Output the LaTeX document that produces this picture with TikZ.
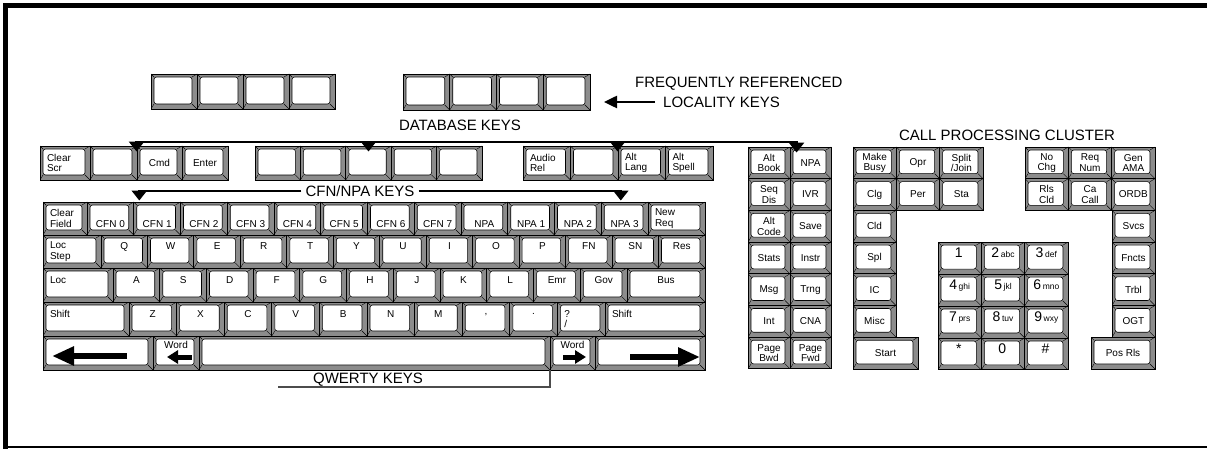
\documentclass[tikz,border=0pt]{standalone}
\usepackage{fontspec}
\setmainfont{Liberation Sans}
\usetikzlibrary{arrows.meta, positioning, calc}

\definecolor{keyshade}{gray}{0.55}

\tikzset{
  key/.style={draw, line width=0.9pt, fill=keyshade, inner sep=0pt, align=center,
    font=\fontsize{10}{10.5}\selectfont,
    path picture={
      \draw[fill=white, line width=0.6pt, rounded corners=2.5pt]
        ([shift={(3,3)}]path picture bounding box.north west) rectangle
        ([shift={(-5,-5)}]path picture bounding box.south east);
      \draw[line width=0.4pt] (path picture bounding box.north west) -- ++(3,3);
      \draw[line width=0.4pt] (path picture bounding box.north east) -- ++(-5,3);
      \draw[line width=0.4pt] (path picture bounding box.south west) -- ++(3,-5);
      \draw[line width=0.4pt] (path picture bounding box.south east) -- ++(-5,-5);
    }},
  lft/.style={text width=\ktw pt, align=left},
  txtup/.style={text depth=10pt},
  txtdn/.style={text height=19pt},
  wordup/.style={text depth=16pt},
  heading/.style={font=\fontsize{15}{16}\selectfont, inner sep=2pt},
  bar/.style={line width=2.5pt, -{Triangle[width=15pt,length=10pt]}},
  fatarrow/.style={line width=6pt, -{Triangle[width=18pt,length=22pt]}},
  slimarrow/.style={line width=5pt, -{Triangle[width=13pt,length=11pt]}},
  qwbar/.style={line width=2pt, gray!60!black},
}

\newcommand{\keybox}[7][]{%
  \pgfmathsetmacro\kcx{((#3)+(#5))/2}%
  \pgfmathsetmacro\kcy{((#4)+(#6))/2}%
  \pgfmathsetmacro\kw{(#5)-(#3)}%
  \pgfmathsetmacro\kh{(#6)-(#4)}%
  \pgfmathsetmacro\ktw{\kw-14}%
  \node[key, minimum width=\kw pt, minimum height=\kh pt, #1] (#2) at (\kcx,\kcy) {#7};%
}
\newcommand{\padlbl}[2]{{\fontsize{14}{14}\selectfont #1}\,{\fontsize{8.5}{9}\selectfont #2}}

\begin{document}
\begin{tikzpicture}[x=1pt, y=-1pt]
    \useasboundingbox (0,0) rectangle (1207,449);
    \draw [line width=5pt] (5.5,449) -- (5.5,5.5) -- (1207,5.5);
    \draw [line width=2.5pt] (3,447) -- (1207,447);

    \foreach \i in {0,...,3} {
      \keybox{fa\i}{151+46*\i}{74}{151+46*(\i+1)}{109}{}
      \keybox{fb\i}{403+46.75*\i}{74}{403+46.75*(\i+1)}{110}{}
    }
    \node [heading, anchor=west] (freqlbl) at (633,84) {FREQUENTLY REFERENCED};
    \node [heading, anchor=west] (loclbl) at (661,102) {LOCALITY KEYS};
    \coordinate (locend) at (604,102);
    \draw [bar, -{Triangle[width=12pt,length=13pt]}] ([xshift=-6pt]loclbl.west) -- (locend);

    \keybox[lft]{clrscr}{40}{146}{90}{180}{Clear\\Scr}
    \keybox{dka}{90}{146}{137}{180}{}
    \keybox{cmd}{137}{146}{182}{180}{Cmd}
    \keybox{enter}{182}{146}{228}{180}{Enter}
    \foreach \i in {0,...,4} {
      \keybox{dkb\i}{255+45.4*\i}{146}{255+45.4*(\i+1)}{180}{}
    }
    \keybox[lft]{audio}{523}{146}{570.5}{180}{Audio\\Rel}
    \keybox{dkc}{570.5}{146}{618}{180}{}
    \keybox[lft]{altlang}{618}{146}{665.5}{180}{Alt\\Lang}
    \keybox[lft]{altspell}{665.5}{146}{713}{180}{Alt\\Spell}

    \foreach \t [count=\i from 0] in {Alt\\Book,Seq\\Dis,Alt\\Code,Stats,Msg,Int,Page\\Bwd} {
      \keybox{sl\i}{748}{147+31.7*\i}{790}{147+31.7*(\i+1)}{\t}
    }
    \foreach \t [count=\i from 0] in {NPA,IVR,Save,Instr,Trng,CNA,Page\\Fwd} {
      \keybox{sr\i}{790}{147+31.7*\i}{831}{147+31.7*(\i+1)}{\t}
    }

    \node [heading] (dblbl) at (460,125) {DATABASE KEYS};
    \coordinate (dbbar) at (460,142);
    \draw [bar] (dbbar) -| ([yshift=-6pt]cmd.north west);
    \draw [bar] (dbbar) -| ([shift={(7,6)}]sr0.north west);
    \draw [bar] (dbbar -| dkb2.north) -- ([yshift=-6pt]dkb2.north);
    \draw [bar] (dbbar -| altlang.north west) -- ([yshift=-6pt]altlang.north west);

    \keybox[lft]{clrfld}{43}{202}{87}{235}{Clear\\Field}
    \foreach \t [count=\i from 0] in {CFN 0,CFN 1,CFN 2,CFN 3,CFN 4,CFN 5,CFN 6,CFN 7,NPA,NPA 1,NPA 2,NPA 3} {
      \keybox[txtdn]{fk\i}{87+46.75*\i}{202}{87+46.75*(\i+1)}{235}{\t}
    }
    \keybox[lft]{newreq}{648}{202}{705}{235}{New\\Req}

    \keybox[lft]{locstep}{43}{235}{101}{268}{Loc\\Step}
    \foreach \t [count=\i from 0] in {Q,W,E,R,T,Y,U,I,O,P,FN,SN,Res} {
      \keybox[txtup]{qk\i}{101+46.46*\i}{235}{101+46.46*(\i+1)}{268}{\t}
    }

    \keybox[lft,txtup]{loc}{43}{268}{113}{302}{Loc}
    \foreach \t [count=\i from 0] in {A,S,D,F,G,H,J,K,L,Emr,Gov} {
      \keybox[txtup]{ak\i}{113+46.73*\i}{268}{113+46.73*(\i+1)}{302}{\t}
    }
    \keybox[txtup]{bus}{627}{268}{705}{302}{Bus}

    \keybox[lft,txtup]{lshift}{43}{302}{129}{336}{Shift}
    \foreach \t [count=\i from 0] in {Z,X,C,V,B,N,M,{,},.} {
      \keybox[txtup]{zk\i}{129+47.6*\i}{302}{129+47.6*(\i+1)}{336}{\t}
    }
    \keybox[lft]{qmark}{557.4}{302}{605}{336}{?\\/}
    \keybox[lft,txtup]{rshift}{605}{302}{705}{336}{Shift}

    \keybox{arrl}{43}{336}{153}{370}{}
    \keybox[wordup]{wordl}{153}{336}{199}{370}{Word}
    \keybox{space}{199}{336}{550}{370}{}
    \keybox[wordup]{wordr}{550}{336}{595}{370}{Word}
    \keybox{arrr}{595}{336}{705}{370}{}
    \draw [fatarrow] ([shift={(29,3)}]arrl.center) -- ([shift={(-46,3)}]arrl.center);
    \draw [slimarrow] ([shift={(16,4)}]wordl.center) -- ([shift={(-9,4)}]wordl.center);
    \draw [slimarrow] ([shift={(-9.5,4)}]wordr.center) -- ([shift={(13.5,4)}]wordr.center);
    \draw [fatarrow] ([shift={(-20,4)}]arrr.center) -- ([shift={(50,4)}]arrr.center);

    \node [heading, fill=white, inner sep=4pt] (cfnlbl) at (360,191) {CFN/NPA KEYS};
    \draw [bar] (cfnlbl.west) -| ([shift={(6,-1)}]fk1.north west);
    \draw [bar] (cfnlbl.east) -| ([shift={(20,-1)}]fk11.north west);

    \node [heading] (qwlbl) at (368,380) {QWERTY KEYS};
    \coordinate (qwleft) at (278,387);
    \draw [qwbar] (qwleft) -| (space.south east);

    \node [heading] (cpclbl) at (1007,135) {CALL PROCESSING CLUSTER};
    \foreach \t [count=\i from 0] in {Make\\Busy,Opr,Split\\/Join} {
      \keybox{ca\i}{853+43.33*\i}{147}{853+43.33*(\i+1)}{178.7}{\t}
    }
    \foreach \t [count=\i from 0] in {Clg,Per,Sta} {
      \keybox{cb\i}{853+43.33*\i}{178.7}{853+43.33*(\i+1)}{210.4}{\t}
    }
    \foreach \t [count=\i from 0] in {Cld,Spl,IC,Misc} {
      \keybox{cc\i}{853}{210.4+31.7*\i}{896}{210.4+31.7*(\i+1)}{\t}
    }
    \keybox{start}{853}{337.2}{918}{369}{Start}
    \foreach \t [count=\i from 0] in {No\\Chg,Req\\Num,Gen\\AMA} {
      \keybox{ra\i}{1025+43.33*\i}{147}{1025+43.33*(\i+1)}{178.7}{\t}
    }
    \foreach \t [count=\i from 0] in {Rls\\Cld,Ca\\Call,ORDB} {
      \keybox{rb\i}{1025+43.33*\i}{178.7}{1025+43.33*(\i+1)}{210.4}{\t}
    }
    \foreach \t [count=\i from 0] in {Svcs,Fncts,Trbl,OGT} {
      \keybox{rc\i}{1112}{210.4+31.7*\i}{1155}{210.4+31.7*(\i+1)}{\t}
    }
    \keybox{posrls}{1091}{337.2}{1155}{369}{Pos Rls}
    \foreach \n/\l [count=\i from 0] in {1/,2/abc,3/def,4/ghi,5/jkl,6/mno,7/prs,8/tuv,9/wxy,*/,0/,\#/} {
      \pgfmathtruncatemacro\c{mod(\i,3)}
      \pgfmathtruncatemacro\r{\i/3}
      \keybox[txtup]{pad\i}{938+43.33*\c}{242.1+31.95*\r}{938+43.33*(\c+1)}{242.1+31.95*(\r+1)}{\padlbl{\n}{\l}}
    }
\end{tikzpicture}
\end{document}
